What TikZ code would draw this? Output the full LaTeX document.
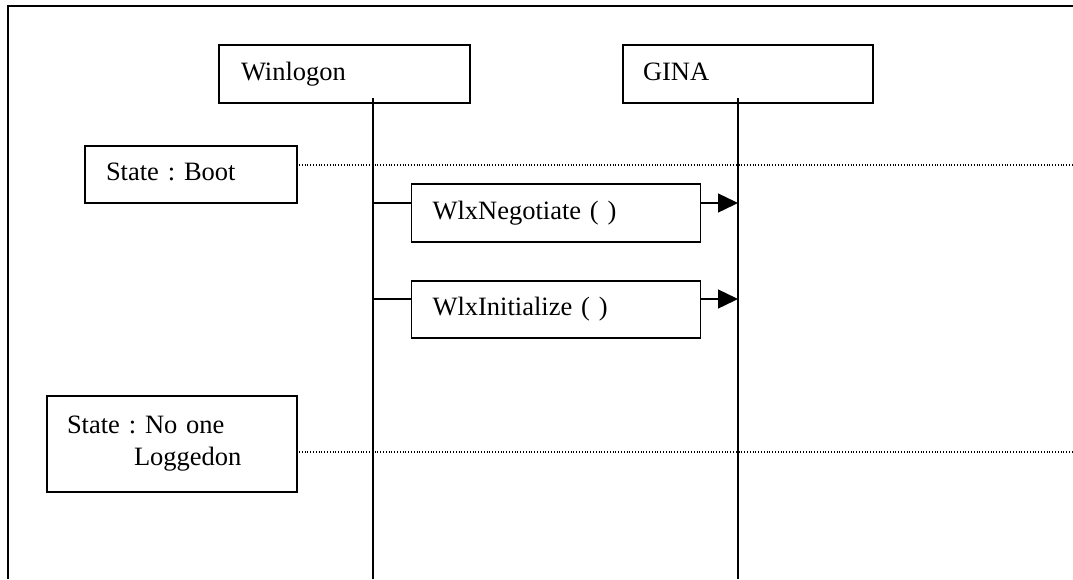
\documentclass[tikz,border=0pt]{standalone}
\usepackage{fontspec}
\setmainfont{Liberation Serif}
\usetikzlibrary{arrows.meta}
\begin{document}
\frenchspacing
\begin{tikzpicture}[x=1pt,y=-1pt,
  line width=1.4pt,
  every node/.style={font=\fontsize{26.5}{32}\selectfont},
  actor/.style={draw,rectangle,align=left,inner ysep=0pt,text height=18pt,text depth=6pt},
  msgbox/.style={draw,rectangle,align=left,inner ysep=0pt,text height=18pt,text depth=6pt},
  statebox/.style={draw,rectangle,align=left,inner ysep=0pt},
  lifeline/.style={line width=1.4pt},
  stateline/.style={line width=1.1pt,dash pattern=on 1pt off 1.8pt},
  call/.style={-{Triangle[length=20pt,width=19pt]}}
]
\useasboundingbox (0,0) rectangle (1073,579);

% outer frame (right and bottom sides run off the page)
\draw[line width=1.7pt] (8,579) -- (8,6) -- (1073,6);

% actors
\node[actor,inner xsep=22pt,text width=207pt,minimum height=58pt] (winlogon) at (344.5,74) {Winlogon};
\node[actor,inner xsep=20pt,text width=210pt,minimum height=58pt] (gina) at (748,74) {GINA};

% lifelines
\coordinate (wlTop) at (373,98);
\coordinate (wlBot) at (373,579);
\coordinate (giTop) at (738,98);
\coordinate (giBot) at (738,579);
\draw[lifeline] (wlTop) -- (wlBot);
\draw[lifeline] (giTop) -- (giBot);

% states
\node[statebox,inner xsep=21pt,text width=170pt,minimum height=57pt,text height=18pt,text depth=6pt] (boot) at (191,174.5) {State : Boot};
\node[statebox,inner xsep=20pt,text width=210pt,minimum height=96pt] (noone) at (172,444) {\raisebox{4pt}{State : No one}\\\hspace*{67pt}\raisebox{4pt}{Loggedon}};

\coordinate (s1a) at (299,165);
\coordinate (s1b) at (1073,165);
\coordinate (s2a) at (299,452);
\coordinate (s2b) at (1073,452);
\draw[stateline] (s1a) -- (s1b);
\draw[stateline] (s2a) -- (s2b);

% calls
\node[msgbox,inner xsep=21pt,text width=247pt,minimum height=58pt] (neg) at (556,213) {WlxNegotiate ( )};
\node[msgbox,inner xsep=21pt,text width=247pt,minimum height=57pt] (init) at (556,309.5) {WlxInitialize ( )};

\coordinate (m1) at (373,203);
\coordinate (m2) at (373,299);
\draw (m1) -- (m1 -| neg.west);
\draw[call] (m1 -| neg.east) -- (m1 -| giTop);
\draw (m2) -- (m2 -| init.west);
\draw[call] (m2 -| init.east) -- (m2 -| giTop);
\end{tikzpicture}
\end{document}
